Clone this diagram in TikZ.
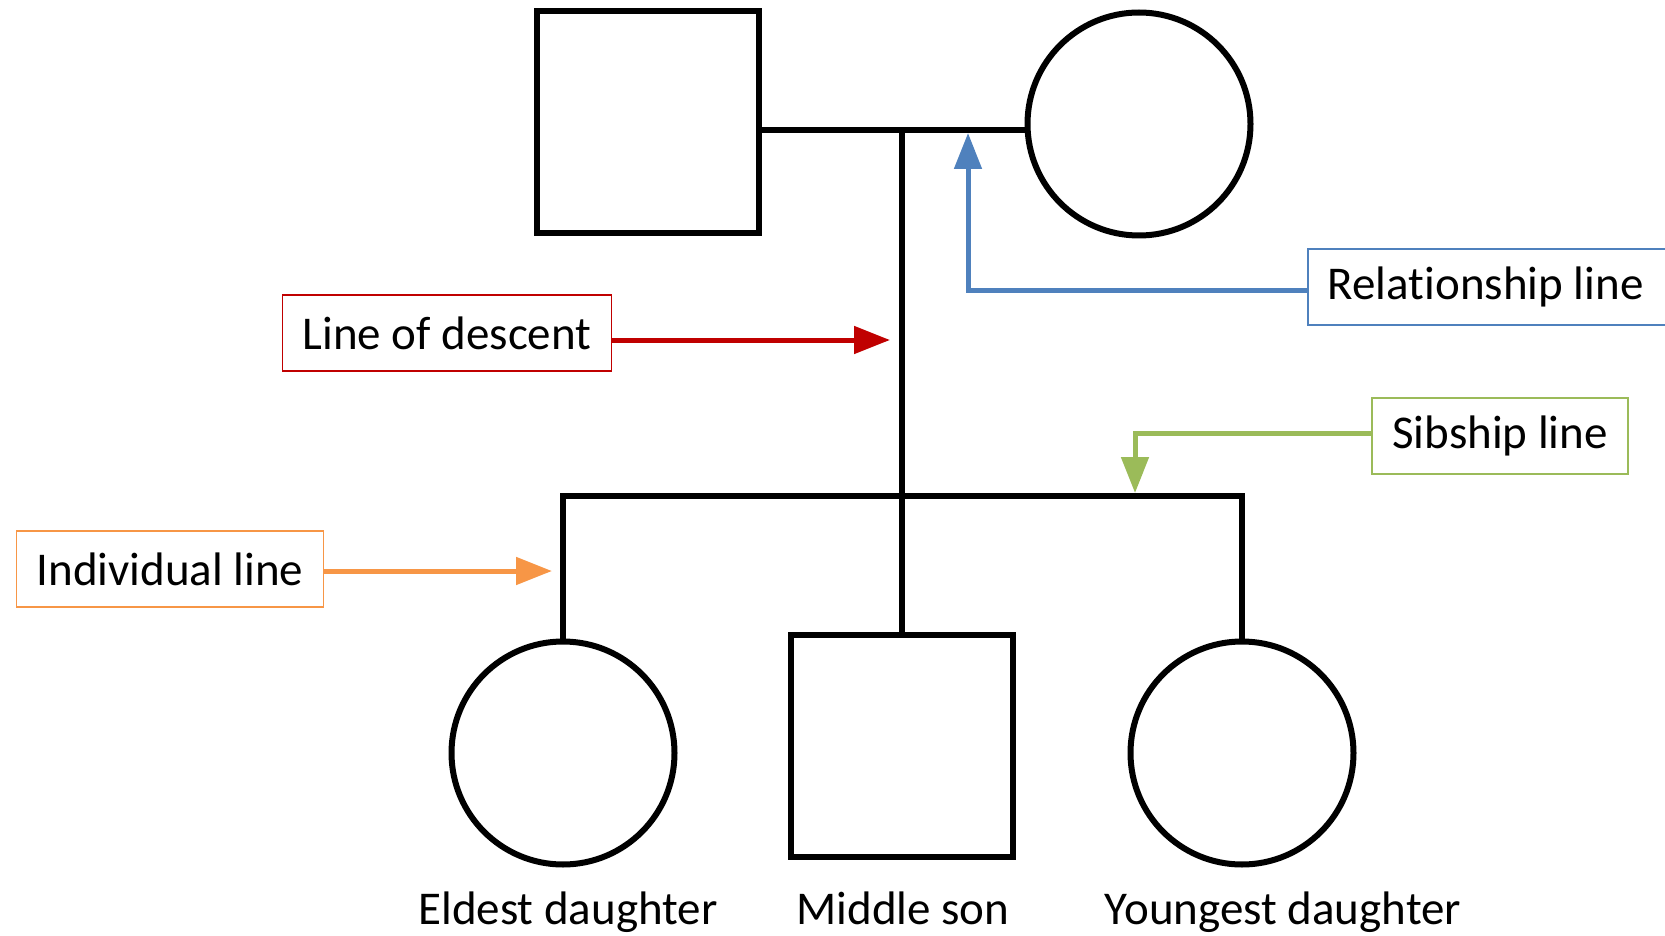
\documentclass[tikz,border=0pt]{standalone}
\usepackage{fontspec}
\setmainfont{Carlito}[Ligatures=NoCommon]
\usetikzlibrary{arrows.meta}

\definecolor{descred}{HTML}{C00000}
\definecolor{relblue}{HTML}{4F81BD}
\definecolor{sibgreen}{HTML}{9BBB59}
\definecolor{indorange}{HTML}{F79646}

\begin{document}
\begin{tikzpicture}[x=0.5pt, y=-0.5pt,
    every node/.style={font=\fontsize{23.5}{28}\selectfont},
    male/.style={draw, line width=3pt, minimum size=111pt, inner sep=0},
    female/.style={draw, circle, line width=3pt, minimum size=111.5pt, inner sep=0},
    tie/.style={line width=2.6pt},
    callout/.style={draw, line width=0.8pt, minimum height=38pt, inner xsep=10pt},
    pointer/.style={line width=2.5pt, -{Triangle[length=18pt, width=13.5pt]}}]
    \useasboundingbox (0,0) rectangle (1665,936);

    % Parents
    \node[male] (father) at (648,122) {};
    \node[female] (mother) at (1139,124) {};

    % Children
    \node[female] (eldest) at (563,753) {};
    \node[male] (son) at (902,746) {};
    \node[female] (youngest) at (1242,753) {};
    \node[anchor=base] (eldestlbl) at (568,924) {Eldest daughter};
    \node[anchor=base] (sonlbl) at (903,924) {Middle son};
    \node[anchor=base] (youngestlbl) at (1283,924) {Youngest daughter};

    % Relationship, descent and sibship lines
    \coordinate (rel) at (902,130);
    \coordinate (sibL) at (563,496);
    \coordinate (sibR) at (1242,496);
    \draw[tie] (father.east |- rel) -- (mother.west |- rel);
    \draw[tie] (rel) -- (son.north);
    \draw[tie] (eldest.north) -- (sibL) -- (sibR) -- (youngest.north);

    % Labelled boxes
    \node[callout, draw=descred] (descbox) at (447,333) {Line of descent};
    \node[callout, draw=relblue, anchor=west]
      (relbox) at (1307,287) {\makebox[167pt][l]{Relationship line}};
    \node[callout, draw=sibgreen] (sibbox) at (1500,436) {Sibship line};
    \node[callout, draw=indorange] (indbox) at (170,569) {Individual line};

    % Pointers from the boxes
    \coordinate (descTip) at (890,340);
    \coordinate (relBend) at (968,291);
    \coordinate (relTip) at (968,133);
    \coordinate (sibBend) at (1135,433);
    \coordinate (sibTip) at (1135,493);
    \coordinate (indTip) at (552,571);
    \draw[pointer, descred] (descbox.east |- descTip) -- (descTip);
    \draw[pointer, relblue] (relbox.west |- relBend) -- (relBend) -- (relTip);
    \draw[pointer, sibgreen] (sibbox.west |- sibBend) -- (sibBend) -- (sibTip);
    \draw[pointer, indorange] (indbox.east |- indTip) -- (indTip);
\end{tikzpicture}
\end{document}
